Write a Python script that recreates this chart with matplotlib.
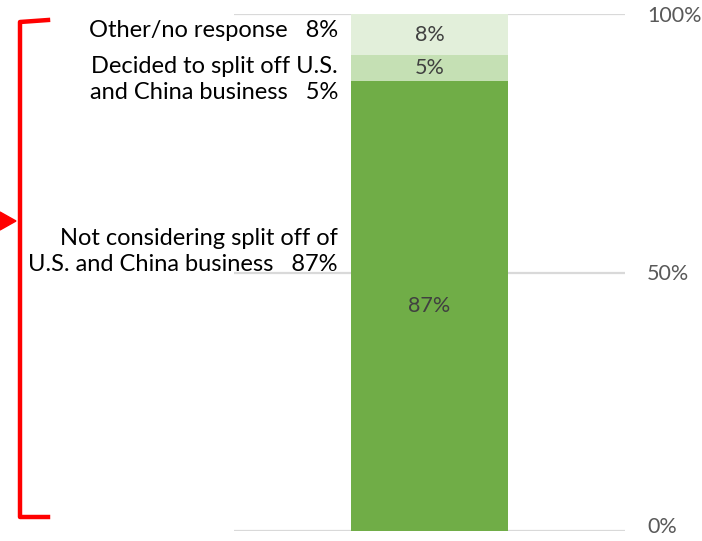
import matplotlib.pyplot as plt
import matplotlib.transforms as mtransforms
from matplotlib.patches import Polygon
from matplotlib.lines import Line2D

plt.rcParams['font.family'] = ['Lato', 'DejaVu Sans']

segments = ["Not considering split off of\nU.S. and China business   87%",
            "Decided to split off U.S.\nand China business   5%",
            "Other/no response   8%"]
values = [87, 5, 8]
colors = ["#70AD47", "#C5E0B4", "#E2EFDA"]
ticks = [0, 50, 100]
tick_labels = ["0%", "50%", "100%"]

W, H = 702, 541
fig = plt.figure(figsize=(W / 100, H / 100), dpi=100)
ax = fig.add_axes([234 / W, 10 / H, 391 / W, 517 / H])

bottom = 0
for val, col in zip(values, colors):
    ax.bar(0.5, val, width=0.402, bottom=bottom, color=col, zorder=2)
    ax.text(0.5, bottom + val / 2, f"{val}%", ha="center", va="center",
            fontsize=15.5, color="#404040", zorder=3)
    bottom += val

ax.set_xlim(0, 1)
ax.set_ylim(0, 100)
ax.set_yticks(ticks)
ax.set_yticklabels(tick_labels)
ax.yaxis.tick_right()
ax.tick_params(axis="y", length=0, pad=16, labelsize=15.5, labelcolor="#595959")
ax.set_xticks([])
ax.grid(axis="y", color="#d9d9d9", linewidth=1.6, zorder=1)
for s in ax.spines.values():
    s.set_visible(False)
ax.patch.set_alpha(0)

# nudge the 0% label up a little so it stays inside the figure
lbl0 = ax.get_yticklabels()[0]
lbl0.set_transform(lbl0.get_transform() +
                   mtransforms.ScaledTranslation(0, 4 / 72, fig.dpi_scale_trans))

# category labels to the left of the bar
label_y = [54.0, 87.3, 96.8]
for txt, y in zip(segments, label_y):
    fig.text(338 / W, ax.transData.transform((0, y))[1] / H, txt,
             ha="right", va="center", fontsize=17, color="black", linespacing=1.28)

# red bracket with arrow
red = "#FF0000"
fig.add_artist(Line2D([48 / W, 20 / W, 20 / W, 48 / W],
                      [1 - 20 / H, 1 - 22 / H, 1 - 517 / H, 1 - 517 / H],
                      color=red, linewidth=3.2, solid_joinstyle="round"))
fig.add_artist(Polygon([[0, 1 - 212 / H], [16 / W, 1 - 221 / H], [0, 1 - 230 / H]],
                       closed=True, color=red, transform=fig.transFigure))

fig.savefig("out.png", dpi=100)
